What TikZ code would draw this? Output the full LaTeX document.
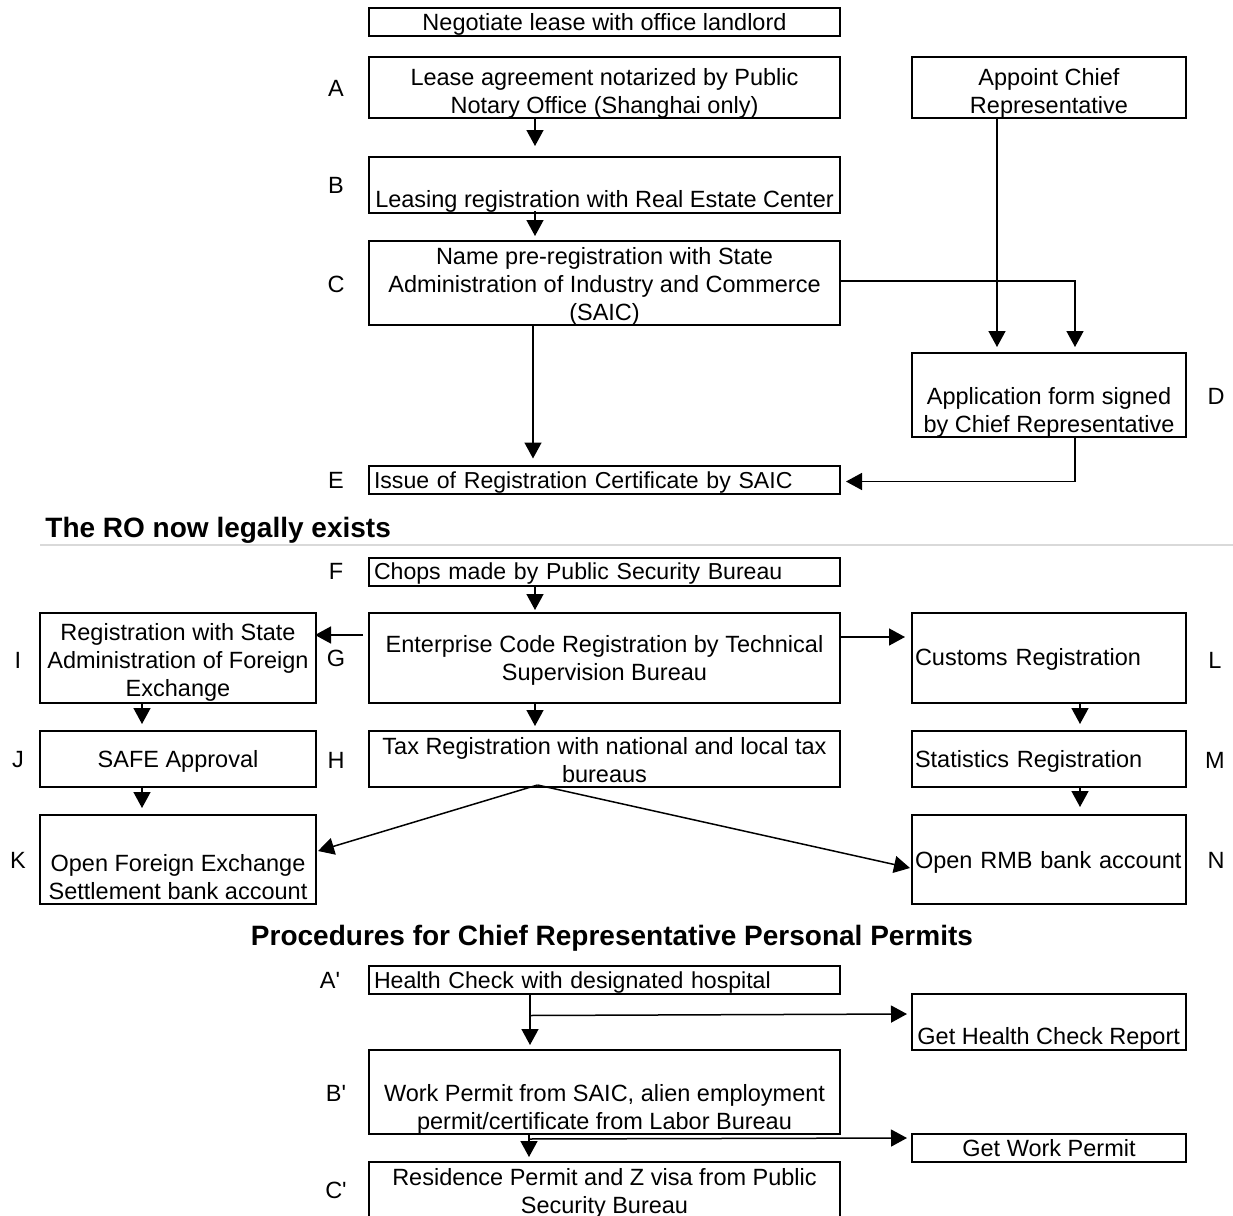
\documentclass[tikz,border=0pt]{standalone}
\usepackage{fontspec}
\setmainfont{Liberation Sans}
\usetikzlibrary{arrows.meta,calc}
\newcommand\myfs{\fontsize{11.75pt}{14pt}\selectfont}
\newcommand\mysfs{\fontsize{11.55pt}{14pt}\selectfont}
\newcommand\myhd{\fontsize{14pt}{16pt}\selectfont\bfseries}
\newcommand\lo[2]{\raisebox{-#1}[\height][\depth]{\begin{tabular}{@{}c@{}}#2\end{tabular}}}
\newcommand\lol[2]{\raisebox{-#1}[\height][\depth]{\begin{tabular}{@{}l@{}}#2\end{tabular}}}
\begin{document}
\begin{tikzpicture}[x=0.5pt,y=-0.5pt,
 box/.style={draw, line width=1pt, inner sep=0pt, align=center, font=\myfs},
 wbox/.style={box, minimum width=235.5pt},
 sbox/.style={box, minimum width=137pt},
 lbox/.style={align=left, text width=#1},
 txt/.style={font=\myfs, inner sep=0pt, align=center},
 lbl/.style={font=\myfs, inner sep=0pt},
 hd/.style={font=\myhd, inner sep=0pt},
 arr/.style={line width=0.75pt, -{Triangle[width=8.5pt,length=8pt]}}]
\clip (0,0) rectangle (1233,1216);
\fill[white] (0,0) rectangle (1233,1216);

% ---- part 1 ----
\node[wbox, minimum height=14pt] (neg) at (604.5,22) {\lo{1.5pt}{Negotiate lease with office landlord}};
\node[wbox, minimum height=30.5pt] (A) at (604.5,87.5) {\lo{3pt}{Lease agreement notarized by Public\\Notary Office (Shanghai only)}};
\node[sbox, minimum height=30.5pt] (app) at (1049,87.5) {\lo{3pt}{Appoint Chief\\Representative}};
\node[wbox, minimum height=28pt] (B) at (604.5,185) {};
\node[txt, anchor=base] (Bt) at (604.5,207) {Leasing registration with Real Estate Center};
\node[wbox, minimum height=42pt] (C) at (604.5,283) {\lo{2pt}{Name pre-registration with State\\Administration of Industry and Commerce\\(SAIC)}};
\node[sbox, minimum height=42pt] (D) at (1049,395) {};
\node[txt] (Dt) at (1049,412) {Application form signed\\by Chief Representative};
\node[wbox, lbox=230.5pt, minimum height=13.5pt, font=\mysfs] (E) at (604.5,479.5) {\lol{1.5pt}{Issue of Registration Certificate by SAIC}};

\node[lbl] (lA) at (336,88) {A};
\node[lbl] (lB) at (336,185) {B};
\node[lbl] (lC) at (336,284) {C};
\node[lbl] (lD) at (1216,396) {D};
\node[lbl] (lE) at (336,480) {E};

\draw[arr] ($(A.south)+(-69.5,0)$) -- ($(B.north)+(-69.5,-10)$);
\draw[arr] ($(B.south)+(-69.5,-3)$) -- ($(C.north)+(-69.5,-4)$);
\draw[arr] ($(app.south)+(-52,0)$) -- ($(D.north)+(-52,-5)$);
\draw[arr] ($(C.east)+(0,-2)$) -| ($(D.north)+(26,-5)$);
\draw[arr] ($(C.south)+(-71.5,0)$) -- ($(E.north)+(-71.5,-6)$);
\draw[arr] ($(D.south)+(26,0)$) |- ($(E.east)+(5,2)$);

% ---- heading 1 ----
\node[hd, anchor=base west] (h1) at (45,537) {The RO now legally exists};
\draw[line width=1pt, black!15] (40,545) -- (1233,545);

% ---- part 2 ----
\node[wbox, lbox=230.5pt, minimum height=13.5pt, font=\mysfs] (F) at (604.5,571.5) {\lol{1pt}{Chops made by Public Security Bureau}};
\node[box, minimum width=138pt, minimum height=45pt] (I) at (178,658) {\lo{2.5pt}{Registration with State\\Administration of Foreign\\Exchange}};
\node[wbox, minimum height=45pt] (G) at (604.5,658) {\lo{1.5pt}{Enterprise Code Registration by Technical\\Supervision Bureau}};
\node[sbox, lbox=134pt, minimum height=45pt] (L) at (1049,658) {\lol{1pt}{Customs Registration}};
\node[box, minimum width=138pt, minimum height=28pt] (J) at (178,759) {\lo{1.5pt}{SAFE Approval}};
\node[wbox, minimum height=28pt] (H) at (604.5,759) {\lo{2pt}{Tax Registration with national and local tax\\bureaus}};
\node[sbox, lbox=134pt, minimum height=28pt] (M) at (1049,759) {\lol{1.5pt}{Statistics Registration}};
\node[box, minimum width=138pt, minimum height=44.5pt] (K) at (178,859.5) {};
\node[txt] (Kt) at (178,877) {Open Foreign Exchange\\Settlement bank account};
\node[sbox, lbox=134pt, minimum height=44.5pt] (N) at (1049,859.5) {\lol{1.5pt}{Open RMB bank account}};

\node[lbl] (lF) at (336,571) {F};
\node[lbl] (lG) at (336,658) {G};
\node[lbl] (lI) at (18,660) {I};
\node[lbl] (lL) at (1215,660) {L};
\node[lbl] (lJ) at (18,760) {J};
\node[lbl] (lH) at (336,760) {H};
\node[lbl] (lM) at (1215,760) {M};
\node[lbl] (lK) at (18,860) {K};
\node[lbl] (lN) at (1216,860) {N};

\draw[arr] ($(F.south)+(-69.5,0)$) -- ($(G.north)+(-69.5,-2)$);
\draw[arr] ($(G.west)+(-5,-23)$) -- ($(I.east)+(-2,-23)$);
\draw[arr] ($(G.east)+(0,-21)$) -- ($(L.west)+(-6,-21)$);
\draw[arr] ($(G.south)+(-69.5,0)$) -- ($(H.north)+(-69.5,-4)$);
\draw[arr] ($(I.south)+(-36,0)$) -- ($(J.north)+(-36,-6)$);
\draw[arr] ($(J.south)+(-36,0)$) -- ($(K.north)+(-36,-6)$);
\draw[arr] ($(L.south)+(31,0)$) -- ($(M.north)+(31,-6)$);
\draw[arr] ($(M.south)+(31,0)$) -- ($(N.north)+(31,-7)$);
\coordinate (hs) at ($(H.south)+(-67,-3)$);
\draw[arr] (hs) -- ($(K.east)+(1,-8.5)$);
\draw[arr] (hs) -- ($(N.west)+(-1,8.5)$);

% ---- heading 2 ----
\node[hd, anchor=base] (h2) at (612,945) {Procedures for Chief Representative Personal Permits};

% ---- part 3 ----
\node[wbox, lbox=230.5pt, minimum height=13.5pt, font=\mysfs] (Ap) at (604.5,979.5) {\lol{1.5pt}{Health Check with designated hospital}};
\node[sbox, minimum height=28pt] (GHC) at (1049,1022) {};
\node[lbl, anchor=base west] (GHCt) at (917,1044) {Get Health Check Report};
\node[wbox, minimum height=42pt] (Bp) at (604.5,1092) {};
\node[txt] (Bpt) at (604.5,1109) {Work Permit from SAIC, alien employment\\permit/certificate from Labor Bureau};
\node[sbox, minimum height=14pt] (GWP) at (1049,1148) {Get Work Permit};
\node[wbox, minimum height=29pt] (Cp) at (604.5,1191) {\lo{1.5pt}{Residence Permit and Z visa from Public\\Security Bureau}};

\node[lbl] (lAp) at (330,980) {A\textquotesingle};
\node[lbl] (lBp) at (336,1093) {B\textquotesingle};
\node[lbl] (lCp) at (336,1190) {C\textquotesingle};

\draw[arr] ($(Ap.south)+(-74.5,0)$) -- ($(Bp.north)+(-74.5,-4)$);
\coordinate (j1) at ($(Ap.south)+(-74.5,21)$);
\draw[arr] (j1) -- ($(GHC.west)+(-4,-8)$);
\draw[arr] ($(Bp.south)+(-75.5,-2)$) -- ($(Cp.north)+(-75.5,-4)$);
\coordinate (j2) at ($(Bp.south)+(-76.5,4)$);
\draw[arr] (j2) -- ($(GWP.west)+(-4,-10)$);
\end{tikzpicture}
\end{document}
